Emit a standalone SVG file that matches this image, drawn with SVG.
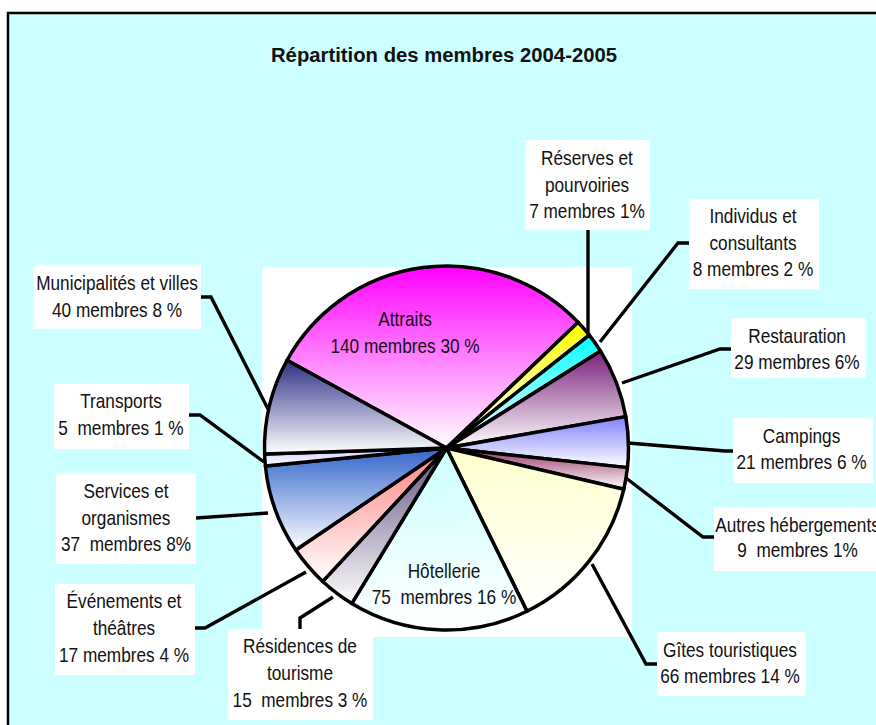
<svg xmlns="http://www.w3.org/2000/svg" width="876" height="725" viewBox="0 0 876 725">
<style>
.lbl{font-family:"Liberation Sans",Arial,sans-serif;font-size:21px;fill:#111;text-anchor:middle;white-space:pre}
.box{fill:#fff;stroke:none}
.slice{stroke:#000;stroke-width:3.5;stroke-linejoin:round}
.conn{fill:none;stroke:#000;stroke-width:3.4;stroke-linejoin:miter}
</style>
<defs>
<linearGradient id="gAttraits" x1="0" y1="0" x2="0" y2="1"><stop offset="0" stop-color="#FF00FF"/><stop offset="1" stop-color="#FFFFFF"/></linearGradient>
<linearGradient id="gReserves" x1="0" y1="0" x2="0" y2="1"><stop offset="0" stop-color="#FFFF00"/><stop offset="1" stop-color="#FFFFFF"/></linearGradient>
<linearGradient id="gIndividus" x1="0" y1="0" x2="0" y2="1"><stop offset="0" stop-color="#00FFFF"/><stop offset="1" stop-color="#FFFFFF"/></linearGradient>
<linearGradient id="gResto" x1="0" y1="0" x2="0" y2="1"><stop offset="0" stop-color="#7A1F7A"/><stop offset="1" stop-color="#FFFFFF"/></linearGradient>
<linearGradient id="gCamp" x1="0" y1="0" x2="0" y2="1"><stop offset="0" stop-color="#8080FF"/><stop offset="1" stop-color="#FFFFFF"/></linearGradient>
<linearGradient id="gAutres" x1="0" y1="0" x2="0" y2="1"><stop offset="0" stop-color="#993366"/><stop offset="1" stop-color="#FFFFFF"/></linearGradient>
<linearGradient id="gGites" x1="0" y1="0" x2="0" y2="1"><stop offset="0" stop-color="#FFFFCC"/><stop offset="1" stop-color="#FFFFFF"/></linearGradient>
<linearGradient id="gHotel" x1="0" y1="0" x2="0" y2="1"><stop offset="0" stop-color="#CCFFFF"/><stop offset="1" stop-color="#FFFFFF"/></linearGradient>
<linearGradient id="gResid" x1="0" y1="0" x2="0" y2="1"><stop offset="0" stop-color="#5F4F7F"/><stop offset="1" stop-color="#FFFFFF"/></linearGradient>
<linearGradient id="gEvt" x1="0" y1="0" x2="0" y2="1"><stop offset="0" stop-color="#FF8080"/><stop offset="1" stop-color="#FFFFFF"/></linearGradient>
<linearGradient id="gServ" x1="0" y1="0" x2="0" y2="1"><stop offset="0" stop-color="#3366CC"/><stop offset="1" stop-color="#FFFFFF"/></linearGradient>
<linearGradient id="gTrans" x1="0" y1="0" x2="0" y2="1"><stop offset="0" stop-color="#CCCCFF"/><stop offset="1" stop-color="#FFFFFF"/></linearGradient>
<linearGradient id="gMuni" x1="0" y1="0" x2="0" y2="1"><stop offset="0" stop-color="#2F2F88"/><stop offset="1" stop-color="#FFFFFF"/></linearGradient>
</defs>
<rect x="0" y="0" width="876" height="725" fill="#fff"/>
<rect id="frame" x="8" y="13" width="890" height="730" fill="#CCFFFF" stroke="#000" stroke-width="2.5"/>
<text id="title" x="444" y="62" style="font-family:'Liberation Sans',Arial,sans-serif;font-size:20.3px;font-weight:bold;text-anchor:middle;fill:#111">Répartition des membres 2004-2005</text>
<rect id="plotarea" x="262" y="267" width="370" height="370" fill="#fff"/>
<g id="connectors">
<path class="conn" d="M588 230 L588 333"/>
<path class="conn" d="M689 243 L678 243 L600 342"/>
<path class="conn" d="M731 349 L720 349 L622 383"/>
<path class="conn" d="M733 451 L725 451 L628 443"/>
<path class="conn" d="M714 537 L703 537 L626 478"/>
<path class="conn" d="M657 664 L646 664 L592 564"/>
<path class="conn" d="M300 629 L300 618 L333 597"/>
<path class="conn" d="M195 628 L205 628 L306 572"/>
<path class="conn" d="M196 518 L268 513"/>
<path class="conn" d="M189 415 L200 415 L264 462"/>
<path class="conn" d="M201 297 L211 297 L268 409"/>
</g>
<g id="pie">
<path id="s-attraits" class="slice" fill="url(#gAttraits)" d="M446.5 448 L287.05 360.22 A182 182 0 0 1 578.1 322.3 Z"/>
<path id="s-reserves" class="slice" fill="url(#gReserves)" d="M446.5 448 L578.1 322.3 A182 182 0 0 1 589.26 335.12 Z"/>
<path id="s-individus" class="slice" fill="url(#gIndividus)" d="M446.5 448 L589.26 335.12 A182 182 0 0 1 600.56 351.1 Z"/>
<path id="s-restauration" class="slice" fill="url(#gResto)" d="M446.5 448 L600.56 351.1 A182 182 0 0 1 625.78 416.62 Z"/>
<path id="s-campings" class="slice" fill="url(#gCamp)" d="M446.5 448 L625.78 416.62 A182 182 0 0 1 627.44 467.63 Z"/>
<path id="s-autres" class="slice" fill="url(#gAutres)" d="M446.5 448 L627.44 467.63 A182 182 0 0 1 623.76 489.25 Z"/>
<path id="s-gites" class="slice" fill="url(#gGites)" d="M446.5 448 L623.76 489.25 A182 182 0 0 1 526.96 611.25 Z"/>
<path id="s-hotellerie" class="slice" fill="url(#gHotel)" d="M446.5 448 L526.96 611.25 A182 182 0 0 1 351.85 603.46 Z"/>
<path id="s-residences" class="slice" fill="url(#gResid)" d="M446.5 448 L351.85 603.46 A182 182 0 0 1 322.72 581.43 Z"/>
<path id="s-evenements" class="slice" fill="url(#gEvt)" d="M446.5 448 L322.72 581.43 A182 182 0 0 1 295.79 550.03 Z"/>
<path id="s-services" class="slice" fill="url(#gServ)" d="M446.5 448 L295.79 550.03 A182 182 0 0 1 265.4 466.09 Z"/>
<path id="s-transports" class="slice" fill="url(#gTrans)" d="M446.5 448 L265.4 466.09 A182 182 0 0 1 264.6 453.93 Z"/>
<path id="s-municipalites" class="slice" fill="url(#gMuni)" d="M446.5 448 L264.6 453.93 A182 182 0 0 1 287.05 360.22 Z"/>
</g>
<g id="n-attraits"><text class="lbl" transform="translate(405 326) scale(0.82 1)">Attraits</text><text class="lbl" transform="translate(405 352.5) scale(0.82 1)">140 membres 30 %</text></g>
<g id="n-hotellerie"><text class="lbl" transform="translate(444 578) scale(0.82 1)">Hôtellerie</text><text class="lbl" transform="translate(444 604) scale(0.82 1)">75  membres 16 %</text></g>
<g id="n-reserves"><rect class="box" x="525" y="140" width="125" height="90"/><text class="lbl" transform="translate(587 165) scale(0.82 1)">Réserves et</text><text class="lbl" transform="translate(587 191.5) scale(0.82 1)">pourvoiries</text><text class="lbl" transform="translate(587 218) scale(0.82 1)">7 membres 1%</text></g>
<g id="n-individus"><rect class="box" x="689" y="199" width="130" height="90"/><text class="lbl" transform="translate(753 223) scale(0.82 1)">Individus et</text><text class="lbl" transform="translate(753 249.5) scale(0.82 1)">consultants</text><text class="lbl" transform="translate(753 276) scale(0.82 1)">8 membres 2 %</text></g>
<g id="n-restauration"><rect class="box" x="731" y="318" width="135" height="60"/><text class="lbl" transform="translate(797 343) scale(0.82 1)">Restauration</text><text class="lbl" transform="translate(797 369) scale(0.82 1)">29 membres 6%</text></g>
<g id="n-campings"><rect class="box" x="733" y="418" width="140" height="65"/><text class="lbl" transform="translate(801.5 443) scale(0.82 1)">Campings</text><text class="lbl" transform="translate(801.5 469) scale(0.82 1)">21 membres 6 %</text></g>
<g id="n-autres"><rect class="box" x="714" y="507" width="170" height="64"/><text class="lbl" transform="translate(797.5 532) scale(0.82 1)">Autres hébergements</text><text class="lbl" transform="translate(797.5 557) scale(0.82 1)">9  membres 1%</text></g>
<g id="n-gites"><rect class="box" x="657" y="632" width="149" height="64"/><text class="lbl" transform="translate(730 657) scale(0.82 1)">Gîtes touristiques</text><text class="lbl" transform="translate(730 683) scale(0.82 1)">66 membres 14 %</text></g>
<g id="n-residences"><rect class="box" x="228" y="629" width="145" height="91"/><text class="lbl" transform="translate(300 653) scale(0.82 1)">Résidences de</text><text class="lbl" transform="translate(300 680) scale(0.82 1)">tourisme</text><text class="lbl" transform="translate(300 707) scale(0.82 1)">15  membres 3 %</text></g>
<g id="n-evenements"><rect class="box" x="55" y="584" width="140" height="91"/><text class="lbl" transform="translate(124 608) scale(0.82 1)">Événements et</text><text class="lbl" transform="translate(124 635) scale(0.82 1)">théâtres</text><text class="lbl" transform="translate(124 662) scale(0.82 1)">17 membres 4 %</text></g>
<g id="n-services"><rect class="box" x="56" y="473" width="140" height="91"/><text class="lbl" transform="translate(126 498) scale(0.82 1)">Services et</text><text class="lbl" transform="translate(126 524.5) scale(0.82 1)">organismes</text><text class="lbl" transform="translate(126 551) scale(0.82 1)">37  membres 8%</text></g>
<g id="n-transports"><rect class="box" x="54" y="384" width="135" height="65"/><text class="lbl" transform="translate(121 408) scale(0.82 1)">Transports</text><text class="lbl" transform="translate(121 435) scale(0.82 1)">5  membres 1 %</text></g>
<g id="n-municipalites"><rect class="box" x="33" y="265" width="168" height="64"/><text class="lbl" transform="translate(117 290) scale(0.82 1)">Municipalités et villes</text><text class="lbl" transform="translate(117 316.5) scale(0.82 1)">40 membres 8 %</text></g>
</svg>
